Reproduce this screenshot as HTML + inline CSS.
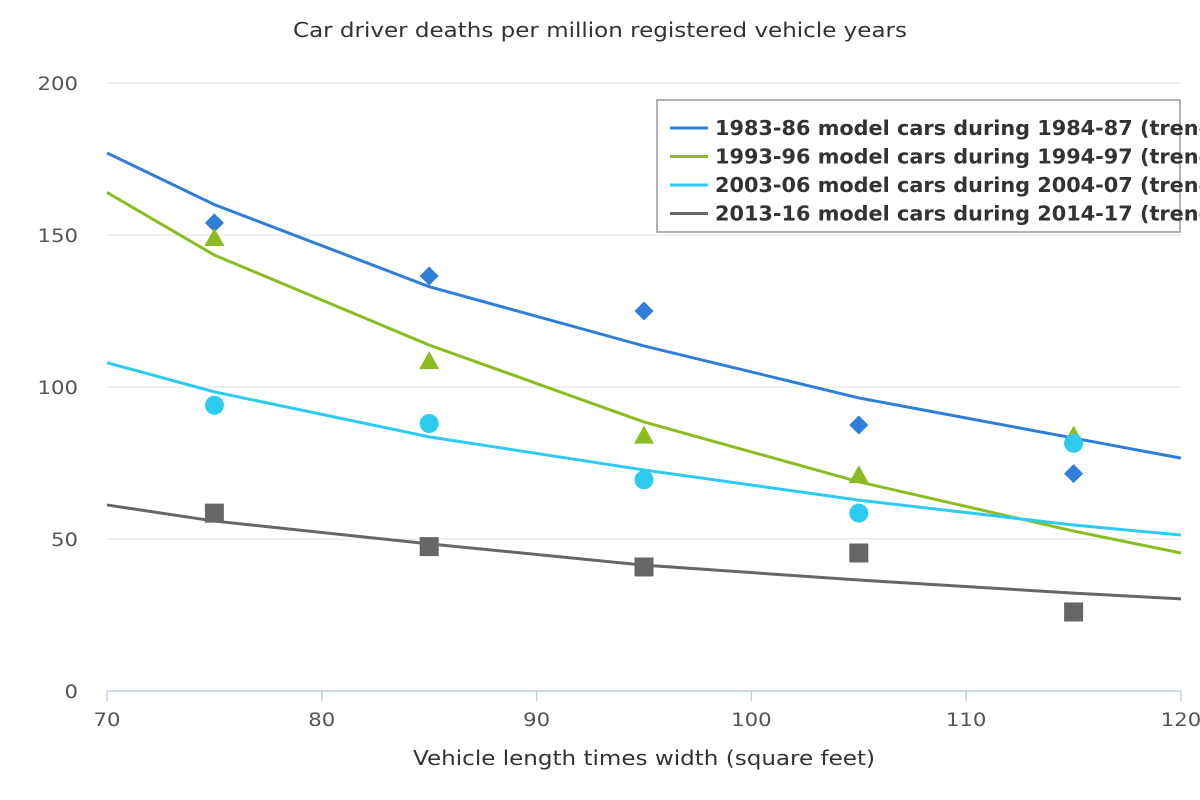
<!DOCTYPE html>
<html><head><meta charset="utf-8"><style>
body{margin:0;background:#fff}
svg{display:block;font-family:"DejaVu Sans","Liberation Sans",sans-serif}
</style></head><body>
<svg id="chart" width="1200" height="800" viewBox="0 0 1200 800"></svg>
<script>
const xs=[75,85,95,105,115];
const fitX=[70,75,85,95,105,115,120];
const blueVals=[154,136.5,125,87.5,71.5];
const greenVals=[149,108.5,84,71,84];
const cyanVals=[94,88,69.5,58.5,81.5];
const grayVals=[58.5,47.5,40.8,45.4,26];
const blueFit=[177,160,133,113.5,96.4,83.2,76.6];
const greenFit=[164,143.4,113.8,88.5,68.8,52.6,45.4];
const cyanFit=[108,98.4,83.6,72.7,62.8,54.6,51.3];
const grayFit=[61.2,55.9,48.4,41.4,36.5,32.2,30.3];
const yTicks=[0,50,100,150,200];
const xTicks=[70,80,90,100,110,120];
const names=["1983-86 model cars during 1984-87 (trend)","1993-96 model cars during 1994-97 (trend)","2003-06 model cars during 2004-07 (trend)","2013-16 model cars during 2014-17 (trend)"];

const NS="http://www.w3.org/2000/svg";
const svg=document.getElementById('chart');
const X=v=>107+(v-70)*(1181-107)/50;
const Y=v=>691-v*(691-83)/200;
function mk(t,a,p){const e=document.createElementNS(NS,t);for(const k in a)e.setAttribute(k,a[k]);(p||svg).appendChild(e);return e;}

let t=mk('text',{x:600,y:37,'text-anchor':'middle','font-size':20,fill:'#333',textLength:614,lengthAdjust:'spacingAndGlyphs'});
t.textContent='Car driver deaths per million registered vehicle years';



yTicks.forEach(v=>{
  if(v>0){const g=mk('line',{x1:107,x2:1181,y1:Y(v),y2:Y(v),stroke:'#e0e0e0','stroke-width':1});
  
  }
  const s=String(v);
  const l=mk('text',{x:78,y:Y(v)+7,'text-anchor':'end','font-size':19,fill:'#555',textLength:s.length*13.5,lengthAdjust:'spacingAndGlyphs'});
  l.textContent=s;
  
  
});
const ax=mk('line',{x1:107,x2:1181,y1:691,y2:691,stroke:'#c0d0e0','stroke-width':1.5});


xTicks.forEach(v=>{
  const tk=mk('line',{x1:X(v),x2:X(v),y1:691,y2:701,stroke:'#c0d0e0','stroke-width':1.5});
  
  
  const s=String(v);
  const l=mk('text',{x:X(v),y:726,'text-anchor':'middle','font-size':19,fill:'#555',textLength:s.length*13.5,lengthAdjust:'spacingAndGlyphs'});
  l.textContent=s;
  
  
});
t=mk('text',{x:644,y:765,'text-anchor':'middle','font-size':20,fill:'#333',textLength:462,lengthAdjust:'spacingAndGlyphs'});
t.textContent='Vehicle length times width (square feet)';



const series=[
 {c:'#2f7ed8',fit:blueFit,pts:blueVals,m:'diamond',n:'blue'},
 {c:'#8bbc21',fit:greenFit,pts:greenVals,m:'triangle',n:'green'},
 {c:'#2ecbf0',fit:cyanFit,pts:cyanVals,m:'circle',n:'cyan'},
 {c:'#666666',fit:grayFit,pts:grayVals,m:'square',n:'gray'}];
series.forEach(s=>{
  const p=mk('path',{d:fitX.map((x,i)=>(i?'L':'M')+X(x)+' '+Y(s.fit[i])).join(' '),fill:'none',stroke:s.c,'stroke-width':3});
  
  
});
series.forEach(s=>{
  xs.forEach((x,i)=>{
    const cx=X(x),cy=Y(s.pts[i]);let e;
    if(s.m==='diamond')e=mk('path',{d:`M${cx} ${cy-9.5}L${cx+9.5} ${cy}L${cx} ${cy+9.5}L${cx-9.5} ${cy}Z`,fill:s.c});
    else if(s.m==='triangle')e=mk('path',{d:`M${cx} ${cy-10}L${cx+10} ${cy+8}L${cx-10} ${cy+8}Z`,fill:s.c});
    else if(s.m==='circle')e=mk('circle',{cx:cx,cy:cy,r:9.5,fill:s.c});
    else e=mk('rect',{x:cx-9.5,y:cy-9.5,width:19,height:19,fill:s.c});
    
    
  });
});
const lg=mk('g',{});


mk('rect',{x:657,y:100,width:523,height:132,fill:'#fff',stroke:'#999','stroke-width':1.5},lg);
series.forEach((s,i)=>{
  const y=128+i*28.5;
  const ln=mk('line',{x1:670,x2:708,y1:y,y2:y,stroke:s.c,'stroke-width':3},lg);
  
  
  const tx=mk('text',{x:715,y:y+7,'font-size':20.8,'font-weight':'bold',fill:'#333'},lg);
  tx.textContent=names[i];
  
  
});
</script>
</body></html>
